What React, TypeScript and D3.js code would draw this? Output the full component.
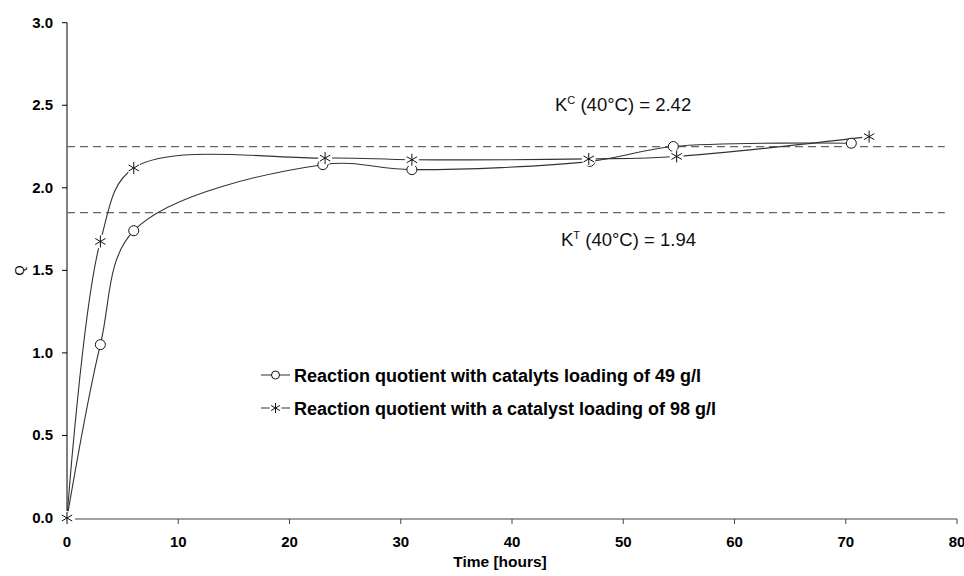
import React, { useRef, useEffect } from 'react';
import * as d3 from 'd3';

const timeLow = [0, 3, 6, 23, 31, 47, 54.5, 70.5];
const qLow = [0, 1.05, 1.74, 2.14, 2.11, 2.16, 2.25, 2.27];
const timeHigh = [0, 3, 6, 23.2, 31, 46.9, 54.8, 72.1];
const qHigh = [0, 1.675, 2.12, 2.18, 2.17, 2.175, 2.19, 2.31];
const xTicks = [0, 10, 20, 30, 40, 50, 60, 70, 80];
const yTicks = [0, 0.5, 1.0, 1.5, 2.0, 2.5, 3.0];
const refLines = [2.25, 1.85];
const legendLabels = [
    'Reaction quotient with catalyts loading of 49 g/l',
    'Reaction quotient with a catalyst loading of 98 g/l',
];

export default function App() {
    const svgRef = useRef<SVGSVGElement | null>(null);

    useEffect(() => {
        const width = 964;
        const height = 576;
        const font = 'Arial, "Liberation Sans", sans-serif';
        const lineColor = '#333';

        d3.select(svgRef.current).selectAll('*').remove();
        const svg = d3.select(svgRef.current).attr('width', width).attr('height', height);

        const x = d3.scaleLinear().domain([0, 80]).range([67, 957]);
        const y = d3.scaleLinear().domain([0, 3]).range([518, 22.7]);

        // axes
        svg.append('line')
            .attr('x1', x(0)).attr('x2', x(0))
            .attr('y1', y(3)).attr('y2', y(0) - 7)
            .attr('stroke', '#000');
        svg.append('line')
            .attr('x1', x(0) + 8).attr('x2', x(80))
            .attr('y1', y(0) + 1).attr('y2', y(0) + 1)
            .attr('stroke', '#444');

        yTicks.forEach((t) => {
            svg.append('line')
                .attr('x1', x(0) - 5).attr('x2', x(0))
                .attr('y1', y(t)).attr('y2', y(t))
                .attr('stroke', '#000');
            svg.append('text')
                .attr('x', 53).attr('y', y(t) + 5)
                .attr('text-anchor', 'end')
                .attr('font-family', font).attr('font-weight', 'bold').attr('font-size', 15)
                .text(t.toFixed(1));
        });
        xTicks.forEach((t) => {
            if (t > 0) {
                svg.append('line')
                    .attr('x1', x(t)).attr('x2', x(t))
                    .attr('y1', y(0) + 1).attr('y2', y(0) + 6)
                    .attr('stroke', '#444');
            }
            svg.append('text')
                .attr('x', x(t)).attr('y', 547)
                .attr('text-anchor', 'middle')
                .attr('font-family', font).attr('font-weight', 'bold').attr('font-size', 15)
                .text(t);
        });

        svg.append('text')
            .attr('x', 500).attr('y', 567)
            .attr('text-anchor', 'middle')
            .attr('font-family', font).attr('font-weight', 'bold').attr('font-size', 15.5)
            .text('Time [hours]');
        svg.append('text')
            .attr('transform', `translate(24,${y(1.5)}) rotate(-90)`)
            .attr('text-anchor', 'middle')
            .attr('font-family', font).attr('font-size', 13)
            .text('Q');

        // reference lines
        refLines.forEach((v) => {
            svg.append('line')
                .attr('x1', x(0)).attr('x2', x(78.9))
                .attr('y1', y(v)).attr('y2', y(v))
                .attr('stroke', '#666')
                .attr('stroke-width', 1.2)
                .attr('stroke-dasharray', '8,5');
        });

        const kLabel = (xPos: number, yPos: number, sup: string, value: string) => {
            const t = svg.append('text')
                .attr('x', xPos).attr('y', yPos)
                .attr('font-family', font).attr('font-size', 18.5)
                .attr('fill', '#111');
            t.append('tspan').text('K');
            t.append('tspan').attr('dy', -7).attr('font-size', 11).text(sup);
            t.append('tspan').attr('dy', 7).text(` (40°C) = ${value}`);
        };
        kLabel(555, 111, 'C', '2.42');
        kLabel(561, 246, 'T', '1.94');

        const line = d3.line<[number, number]>()
            .x((d) => x(d[0]))
            .y((d) => y(d[1]))
            .curve(d3.curveCatmullRom.alpha(0.5));

        const low: [number, number][] = timeLow.map((t, i) => [t, qLow[i]]);
        const high: [number, number][] = timeHigh.map((t, i) => [t, qHigh[i]]);

        [low, high].forEach((pts) => {
            svg.append('path')
                .attr('d', line(pts))
                .attr('fill', 'none')
                .attr('stroke', lineColor)
                .attr('stroke-width', 1.1);
        });

        const drawStar = (cx: number, cy: number, r: number) => {
            svg.append('circle').attr('cx', cx).attr('cy', cy).attr('r', r + 1).attr('fill', '#fff');
            const g = svg.append('g').attr('stroke', '#111').attr('stroke-width', 1);
            [90, 30, 150].forEach((a) => {
                const rad = (a * Math.PI) / 180;
                g.append('line')
                    .attr('x1', cx - r * Math.cos(rad)).attr('y1', cy - r * Math.sin(rad))
                    .attr('x2', cx + r * Math.cos(rad)).attr('y2', cy + r * Math.sin(rad));
            });
        };
        const drawCircle = (cx: number, cy: number, r: number) => {
            svg.append('circle')
                .attr('cx', cx).attr('cy', cy).attr('r', r)
                .attr('fill', '#fff').attr('stroke', '#111').attr('stroke-width', 1);
        };

        low.forEach((d) => drawCircle(x(d[0]), y(d[1]), 5));
        high.forEach((d) => drawStar(x(d[0]), y(d[1]), 6));

        // legend
        const legendY = [375, 408];
        legendY.forEach((ly, i) => {
            svg.append('line')
                .attr('x1', 261).attr('x2', 290)
                .attr('y1', ly).attr('y2', ly)
                .attr('stroke', lineColor);
            if (i === 0) drawCircle(275.5, ly, 4);
            else drawStar(275.5, ly, 5);
            svg.append('text')
                .attr('x', 294).attr('y', ly + 7)
                .attr('font-family', font).attr('font-weight', 'bold').attr('font-size', 18)
                .text(legendLabels[i]);
        });
    }, []);

    return (
        <svg
            ref={svgRef}
            style={{ position: 'absolute', left: 0, top: 0, display: 'block', background: '#fff' }}
        ></svg>
    );
}
